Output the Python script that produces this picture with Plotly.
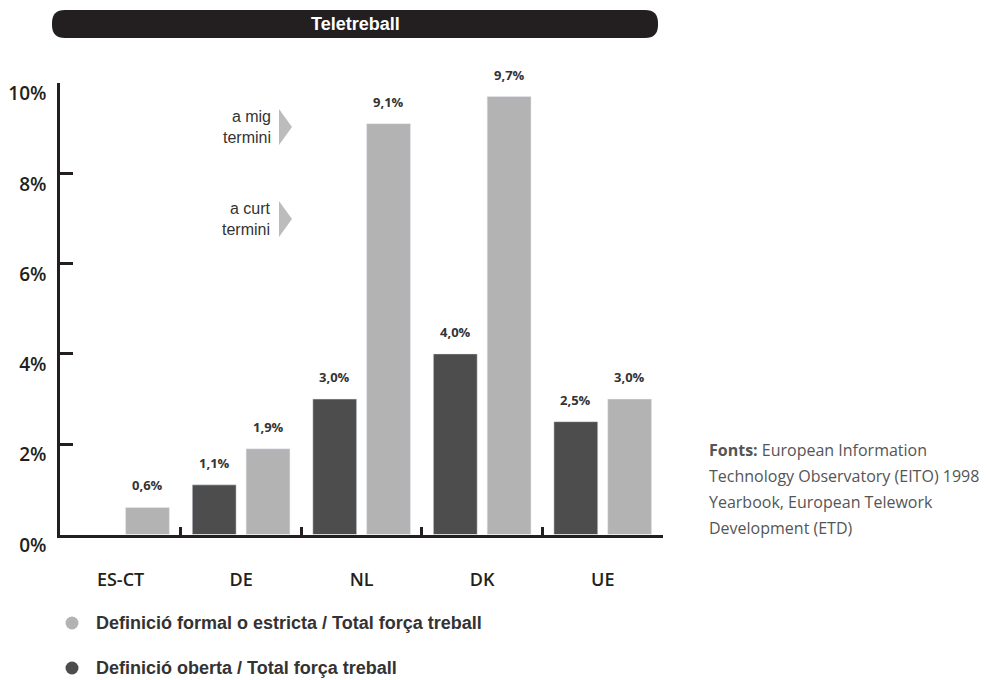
import plotly.graph_objects as go

# ---------------- data ----------------
categories = ["ES-CT", "DE", "NL", "DK", "UE"]
oberta_values = [None, 1.1, 3.0, 4.0, 2.5]      # Definició oberta (dark)
formal_values = [0.6, 1.9, 9.1, 9.7, 3.0]       # Definició formal (light)
oberta_labels = ["", "1,1%", "3,0%", "4,0%", "2,5%"]
formal_labels = ["0,6%", "1,9%", "9,1%", "9,7%", "3,0%"]
y_tickvals = [0, 2, 4, 6, 8, 10]
y_ticktext = ["0%", "2%", "4%", "6%", "8%", "10%"]
legend_names = ["Definició formal o estricta / Total força treball",
                "Definició oberta / Total força treball"]
title_text = "Teletreball"
horizon_labels = ["a mig<br>termini", "a curt<br>termini"]
source_lines = ["<b>Fonts:</b> European Information",
                "Technology Observatory (EITO) 1998",
                "Yearbook, European Telework",
                "Development (ETD)"]

# ---------------- style ----------------
W, H = 987, 680
OFF = 8  # page body margin
DARK = "#4d4d4d"
LIGHT = "#b3b3b3"
AXIS = "#231f20"
TEXT = "#333333"
SEMI = "Open Sans, Liberation Sans, sans-serif"
COND = "Liberation Sans Narrow, Arial Narrow, Liberation Sans, sans-serif"


def fx(px):
    return (px - OFF) / W


def fy(py):
    return 1 - (py - OFF) / H


fig = go.Figure()
fig.add_trace(go.Bar(x=categories, y=oberta_values, marker_color=DARK,
                     name=legend_names[1], showlegend=False))
fig.add_trace(go.Bar(x=categories, y=formal_values, marker_color=LIGHT,
                     name=legend_names[0], showlegend=False))

annotations = []
label_font = dict(family=SEMI, size=13, color=TEXT, weight=700)
for i, cat in enumerate(categories):
    if oberta_values[i] is not None:
        annotations.append(dict(x=cat, y=oberta_values[i], xref="x", yref="y",
                                xshift=-27, yshift=11, yanchor="bottom",
                                text=oberta_labels[i], showarrow=False,
                                font=label_font))
    annotations.append(dict(x=cat, y=formal_values[i], xref="x", yref="y",
                            xshift=27, yshift=11, yanchor="bottom",
                            text=formal_labels[i], showarrow=False,
                            font=label_font))

# banner title
annotations.append(dict(x=fx(355), y=fy(24), xref="paper", yref="paper",
                        xanchor="center", yanchor="middle",
                        text="<b>" + title_text + "</b>", showarrow=False,
                        font=dict(family=COND, size=18, color="white")))

shapes = []
# horizon labels + arrows
for label, cy in zip(horizon_labels, [127, 219]):
    annotations.append(dict(x=fx(272), y=fy(cy), xref="paper", yref="paper",
                            xanchor="right", yanchor="middle", align="right",
                            text=label, showarrow=False, borderpad=0,
                            font=dict(family=COND, size=16, color=TEXT)))
    shapes.append(dict(type="path", xref="paper", yref="paper",
                       path=f"M {fx(279)} {fy(cy-18)} L {fx(292)} {fy(cy)} L {fx(279)} {fy(cy+18)} Z",
                       fillcolor="#bcbcbc", line=dict(width=0)))

# legend (round markers + labels)
for name, color, cy in zip(legend_names, [LIGHT, DARK], [623, 668]):
    shapes.append(dict(type="circle", xref="paper", yref="paper",
                       xsizemode="pixel", ysizemode="pixel",
                       xanchor=fx(72), yanchor=fy(cy),
                       x0=-6.5, x1=6.5, y0=-6.5, y1=6.5,
                       fillcolor=color, line=dict(width=0)))
    annotations.append(dict(x=fx(94), y=fy(cy), xref="paper", yref="paper",
                            xanchor="left", yanchor="middle",
                            text="<b>" + name + "</b>", showarrow=False,
                            font=dict(family=COND, size=18, color=TEXT)))

# sources
for k, line in enumerate(source_lines):
    annotations.append(dict(x=fx(707), y=fy(450 + 26 * k), xref="paper", yref="paper",
                            xanchor="left", yanchor="middle", text=line,
                            showarrow=False,
                            font=dict(family="Open Sans, Liberation Sans, sans-serif",
                                      size=16, color="#555555")))


def rounded_rect(x0, y0, x1, y1, r):
    p = [f"M {fx(x0 + r)} {fy(y0)}",
         f"L {fx(x1 - r)} {fy(y0)}",
         f"Q {fx(x1)} {fy(y0)} {fx(x1)} {fy(y0 + r)}",
         f"L {fx(x1)} {fy(y1 - r)}",
         f"Q {fx(x1)} {fy(y1)} {fx(x1 - r)} {fy(y1)}",
         f"L {fx(x0 + r)} {fy(y1)}",
         f"Q {fx(x0)} {fy(y1)} {fx(x0)} {fy(y1 - r)}",
         f"L {fx(x0)} {fy(y0 + r)}",
         f"Q {fx(x0)} {fy(y0)} {fx(x0 + r)} {fy(y0)} Z"]
    return " ".join(p)


shapes.append(dict(type="path", xref="paper", yref="paper",
                   path=rounded_rect(52, 10, 658, 38, 13),
                   fillcolor=AXIS, line=dict(width=0), layer="below"))

fig.update_layout(
    width=W, height=H,
    margin=dict(l=0, r=0, t=0, b=0, autoexpand=False),
    paper_bgcolor="white", plot_bgcolor="white",
    barmode="group", bargap=0.107, bargroupgap=0.185,
    annotations=annotations, shapes=shapes,
    showlegend=False,
    xaxis=dict(domain=[fx(60.3), fx(663)], type="category", range=[-0.5, 4.5],
               tickson="boundaries", ticks="inside", ticklen=8, tickwidth=2.5,
               tickcolor=AXIS, showline=True, linewidth=3, linecolor=AXIS,
               showgrid=False, zeroline=False, ticklabelstandoff=27,
               tickfont=dict(family=SEMI, size=18, color=AXIS, weight=600)),
    yaxis=dict(domain=[fy(534.5), fy(83)], range=[0, 10],
               tickvals=y_tickvals, ticktext=y_ticktext,
               ticks="inside", ticklen=13, tickwidth=2.5, tickcolor=AXIS,
               showline=True, linewidth=3, linecolor=AXIS,
               showgrid=False, zeroline=False,
               ticklabelposition="outside bottom", ticklabelstandoff=7,
               ticklabelshift=-4,
               tickfont=dict(family=SEMI, size=19, color=AXIS, weight=600)),
)

fig.write_html("out.html")
